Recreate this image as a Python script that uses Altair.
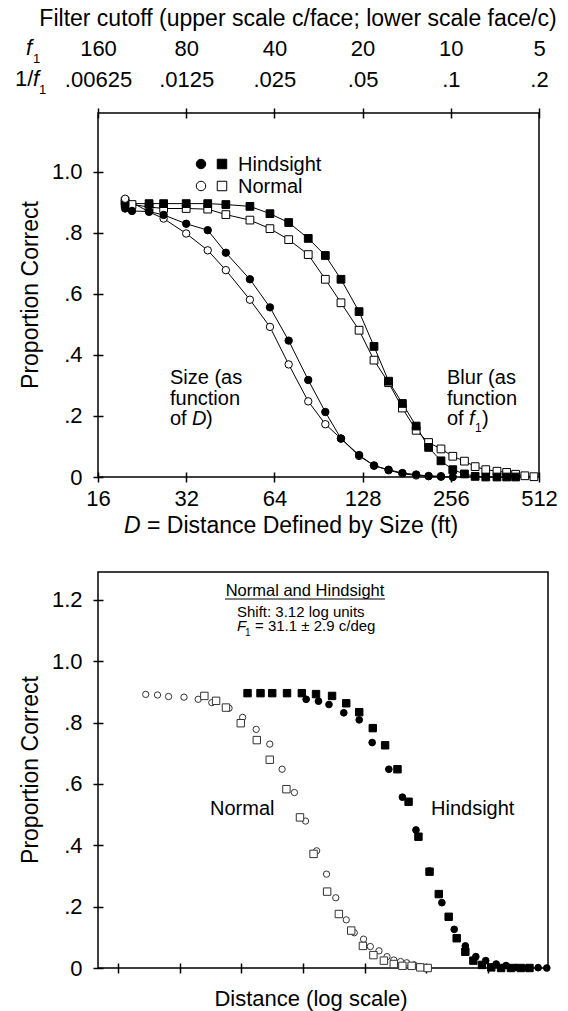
import altair as alt
import pandas as pd

FONT = "Liberation Sans"

# ---------------- Top panel data (D in ft, proportion correct) ----------------
size_norm_D = [19.8, 23.9, 26.8, 32.0, 37.9, 43.7, 52.8, 61.8, 71.6, 83.5, 95.5, 108, 124.5, 140, 157, 175, 195, 215, 237]
size_norm_p = [0.912, 0.869, 0.847, 0.798, 0.743, 0.678, 0.581, 0.492, 0.369, 0.248, 0.173, 0.126, 0.069, 0.038, 0.022, 0.011, 0.005, 0.003, 0.003]

size_hind_D = [19.8, 20.9, 23.9, 26.8, 32.0, 37.9, 43.7, 52.8, 61.8, 71.6, 83.5, 95.5, 108, 124.5, 140, 157, 175, 195, 215, 237, 260]
size_hind_p = [0.880, 0.872, 0.870, 0.859, 0.830, 0.809, 0.735, 0.648, 0.556, 0.447, 0.318, 0.213, 0.126, 0.072, 0.037, 0.024, 0.013, 0.008, 0.003, 0.001, 0.0]

blur_norm_D = [19.8, 20.9, 23.9, 26.8, 32.0, 37.9, 43.7, 52.8, 61.8, 71.6, 83.5, 95.5, 108, 124.5, 140, 157, 175, 195, 215, 237, 260, 285, 310, 337, 368, 397, 426, 458, 492]
blur_norm_p = [0.904, 0.893, 0.885, 0.880, 0.880, 0.878, 0.860, 0.842, 0.814, 0.778, 0.729, 0.648, 0.571, 0.481, 0.383, 0.309, 0.226, 0.153, 0.113, 0.092, 0.068, 0.052, 0.034, 0.024, 0.019, 0.015, 0.009, 0.004, 0.001]

blur_hind_D = [19.8, 23.9, 26.8, 32.0, 37.9, 43.7, 52.8, 61.8, 71.6, 83.5, 95.5, 108, 124.5, 140, 157, 175, 195, 215, 237, 260, 285, 310, 337, 368, 397, 426]
blur_hind_p = [0.896, 0.896, 0.896, 0.896, 0.896, 0.893, 0.887, 0.863, 0.834, 0.782, 0.726, 0.648, 0.542, 0.428, 0.314, 0.241, 0.167, 0.097, 0.053, 0.024, 0.010, 0.002, 0.0, 0.0, 0.0, 0.0]

# Scale tick labels
d_ticks = [16, 32, 64, 128, 256, 512]
f1_labels = ["160", "80", "40", "20", "10", "5"]
inv_f1_labels = [".00625", ".0125", ".025", ".05", ".1", ".2"]

# ---------------- Bottom panel data (distance in log units, proportion correct) ----------------
n_circ_u = [0.45, 0.64, 0.82, 1.07, 1.30, 1.52, 1.80, 2.02, 2.24, 2.46, 2.66, 2.86, 3.04, 3.22, 3.38, 3.53, 3.70, 3.83, 3.98, 4.09, 4.23, 4.36, 4.47, 4.58, 4.68, 4.80, 4.90, 5.03]
n_circ_p = [0.892, 0.890, 0.885, 0.883, 0.876, 0.865, 0.847, 0.817, 0.778, 0.730, 0.648, 0.572, 0.479, 0.382, 0.306, 0.229, 0.157, 0.115, 0.094, 0.070, 0.056, 0.037, 0.026, 0.021, 0.017, 0.010, 0.004, 0.001]

n_sq_u = [1.40, 1.59, 1.75, 1.99, 2.25, 2.46, 2.73, 2.95, 3.17, 3.39, 3.58, 3.78, 3.97, 4.14, 4.31, 4.47, 4.61, 4.76, 4.90, 5.02]
n_sq_p = [0.887, 0.871, 0.849, 0.798, 0.743, 0.679, 0.583, 0.491, 0.372, 0.249, 0.176, 0.122, 0.072, 0.042, 0.024, 0.013, 0.007, 0.007, 0.002, 0.0]

h_sq_u = [2.10, 2.31, 2.50, 2.74, 2.98, 3.21, 3.47, 3.70, 3.91, 4.13, 4.33, 4.53, 4.71, 4.87, 5.05, 5.20, 5.36, 5.49, 5.63, 5.76, 5.90, 6.05, 6.21, 6.37, 6.53, 6.67]
h_sq_p = [0.896, 0.896, 0.896, 0.896, 0.896, 0.893, 0.887, 0.863, 0.834, 0.782, 0.726, 0.648, 0.542, 0.428, 0.314, 0.241, 0.167, 0.097, 0.053, 0.024, 0.010, 0.002, 0.0, 0.0, 0.0, 0.0]

h_circ_u = [3.05, 3.25, 3.42, 3.66, 3.91, 4.12, 4.39, 4.61, 4.83, 5.05, 5.25, 5.45, 5.63, 5.80, 5.96, 6.13, 6.29, 6.45, 6.64, 6.81, 6.95]
h_circ_p = [0.876, 0.870, 0.859, 0.832, 0.809, 0.735, 0.648, 0.557, 0.450, 0.316, 0.213, 0.126, 0.072, 0.037, 0.024, 0.013, 0.008, 0.002, 0.0, 0.001, 0.0]

bottom_ticks = [0, 1, 2, 3, 4, 5, 6]

# ---------------- Build tables ----------------
def series(xs, ps, name, xname):
    return pd.DataFrame({xname: xs, "p": ps, "series": name})

top_df = pd.concat([
    series(size_norm_D, size_norm_p, "size_norm", "D"),
    series(size_hind_D, size_hind_p, "size_hind", "D"),
    series(blur_norm_D, blur_norm_p, "blur_norm", "D"),
    series(blur_hind_D, blur_hind_p, "blur_hind", "D"),
], ignore_index=True)

bot_df = pd.concat([
    series(n_circ_u, n_circ_p, "n_circ", "u"),
    series(n_sq_u, n_sq_p, "n_sq", "u"),
    series(h_sq_u, h_sq_p, "h_sq", "u"),
    series(h_circ_u, h_circ_p, "h_circ", "u"),
], ignore_index=True)

TW, TH = 441, 364
BW, BH = 450, 396

xs_top = alt.Scale(type="log", base=2, domain=[16, 512], nice=False)
ys_top = alt.Scale(domain=[0, 1.193], nice=False, zero=False)
xs_bot = alt.Scale(domain=[-0.324, 6.97], nice=False, zero=False)
ys_bot = alt.Scale(domain=[0, 1.291], nice=False, zero=False)

ylab = "datum.value == 0 ? '0' : (datum.value >= 1 ? format(datum.value, '.1f') : replace(format(datum.value, '.1f'), '0.', '.'))"

def y_axis(values):
    return alt.Axis(orient="left", values=values, labelExpr=ylab, domain=False, grid=False, offset=-5,
                    tickSize=10, tickWidth=1.5, tickColor="black", labelFontSize=22,
                    labelPadding=11, labelColor="black", title=None)

# top axis label expression built from the label arrays
parts = []
for d, a, b in zip(d_ticks, f1_labels, inv_f1_labels):
    parts.append(f"datum.value == {d} ? ['{a}', '{b}'] : ")
top_label_expr = "".join(parts) + "''"

x_bottom_axis = alt.Axis(orient="bottom", values=d_ticks, format="d", domain=False, grid=False,
                         offset=-5, tickSize=10, tickWidth=1.5, tickColor="black",
                         labelFontSize=22, labelPadding=6, labelFlush=False, labelColor="black",
                         title=None)
x_top_axis = alt.Axis(orient="top", values=d_ticks, labelExpr=top_label_expr, domain=False,
                      grid=False, offset=-5, tickSize=10, tickWidth=1.5, tickColor="black",
                      labelFontSize=22, labelPadding=48, labelLineHeight=31, labelFlush=False,
                      labelColor="black", labelBaseline="bottom", title=None)

base_top = alt.Chart(top_df)

top_lines = base_top.mark_line(color="black", strokeWidth=1).encode(
    x=alt.X("D:Q", scale=xs_top, axis=x_bottom_axis),
    y=alt.Y("p:Q", scale=ys_top, axis=y_axis([0, 0.2, 0.4, 0.6, 0.8, 1.0])),
    detail="series:N",
)

def pts(chart, field, xscale, yscale, sname, shape, fill, size, stroke="black"):
    return chart.transform_filter(alt.datum.series == sname).mark_point(
        shape=shape, filled=True, fill=fill, stroke=stroke, strokeWidth=1, size=size, opacity=1
    ).encode(
        x=alt.X(f"{field}:Q", scale=xscale, axis=None),
        y=alt.Y("p:Q", scale=yscale, axis=None),
    )

top_pts = [
    pts(base_top, "D", xs_top, ys_top, "blur_norm", "square", "white", 60),
    pts(base_top, "D", xs_top, ys_top, "blur_hind", "square", "black", 60),
    pts(base_top, "D", xs_top, ys_top, "size_norm", "circle", "white", 55),
    pts(base_top, "D", xs_top, ys_top, "size_hind", "circle", "black", 55),
]

tick_df = pd.DataFrame({"D": d_ticks})
top_axis_layer = alt.Chart(tick_df).mark_point(opacity=0).encode(
    x=alt.X("D:Q", scale=xs_top, axis=x_top_axis),
    y=alt.value(0),
)

def txt(s, x, y, size=20, style="normal", align="left", baseline="alphabetic", angle=0, opacity=1):
    return alt.Chart(pd.DataFrame({"t": [s]})).mark_text(
        font=FONT, fontSize=size, fontStyle=style, align=align, baseline=baseline,
        color="black", angle=angle, opacity=opacity
    ).encode(text="t:N", x=alt.value(x), y=alt.value(y))

def marker(x, y, shape, fill, size):
    return alt.Chart(pd.DataFrame({"k": [0]})).mark_point(
        shape=shape, filled=True, fill=fill, stroke="black", strokeWidth=1, size=size, opacity=1
    ).encode(x=alt.value(x), y=alt.value(y))

top_text = [
    txt("Filter cutoff (upper scale c/face; lower scale face/c)", 200, -87, 23, align="center"),
    txt("f", -72, -58, 22, "italic"),
    txt("1", -65, -50, 13),
    txt("1/", -83, -27, 22),
    txt("f", -65, -27, 22, "italic"),
    txt("1", -59, -19, 13),
    txt("Proportion Correct", -67, TH / 2, 23, align="center", baseline="middle", angle=270),
    # legend
    marker(103, 51, "circle", "black", 90),
    marker(124, 51, "square", "black", 90),
    txt("Hindsight", 140, 58, 20),
    marker(103, 73, "circle", "white", 90),
    marker(124, 73, "square", "white", 90),
    txt("Normal", 140, 80, 20),
    # annotations
    txt("Size (as", 72, 271, 20),
    txt("function", 72, 292, 20),
    txt("of", 72, 312, 20),
    txt("D", 94, 312, 20, "italic"),
    txt(")", 108, 312, 20),
    txt("Blur (as", 349, 271, 20),
    txt("function", 349, 292, 20),
    txt("of", 349, 312, 20),
    txt("f", 371, 312, 20, "italic"),
    txt("1", 377, 319, 12),
    txt(")", 384, 312, 20),
    # x title
    txt("D", 26, 420, 23, "italic"),
    txt("= Distance Defined by Size (ft)", 49, 420, 23),
]

top = alt.layer(top_lines, *top_pts, top_axis_layer, *top_text).resolve_axis(
    x="independent", y="independent"
).properties(width=TW, height=TH)

# ---------------- Bottom panel ----------------
base_bot = alt.Chart(bot_df)
x_bot_axis = alt.Axis(orient="bottom", values=bottom_ticks, labels=False, domain=False, grid=False,
                      offset=-5, tickSize=10, tickWidth=1.5, tickColor="black", title=None)

bot_axes_layer = base_bot.mark_point(opacity=0).encode(
    x=alt.X("u:Q", scale=xs_bot, axis=x_bot_axis),
    y=alt.Y("p:Q", scale=ys_bot, axis=y_axis([0, 0.2, 0.4, 0.6, 0.8, 1.0, 1.2])),
)

bot_pts = [
    pts(base_bot, "u", xs_bot, ys_bot, "n_circ", "circle", "white", 40, "#333333"),
    pts(base_bot, "u", xs_bot, ys_bot, "n_sq", "square", "white", 55, "#333333"),
    pts(base_bot, "u", xs_bot, ys_bot, "h_sq", "square", "black", 55),
    pts(base_bot, "u", xs_bot, ys_bot, "h_circ", "circle", "black", 45),
]

underline = alt.Chart(pd.DataFrame({"k": [0]})).mark_rule(color="black", strokeWidth=1).encode(
    x=alt.value(127), x2=alt.value(287), y=alt.value(27)
)

bot_text = [
    txt("Normal and Hindsight", 207, 24, 16.5, align="center"),
    underline,
    txt("Shift: 3.12 log units", 139, 45, 15),
    txt("F", 139, 59, 15, "italic"),
    txt("1", 147, 64, 10),
    txt("= 31.1 ± 2.9 c/deg", 157, 59, 15),
    txt("Normal", 112, 243, 20),
    txt("Hindsight", 333, 243, 20),
    txt("Proportion Correct", -67, BH / 2, 23, align="center", baseline="middle", angle=270),
    txt("Distance (log scale)", 213, 434, 22, align="center"),
    txt("1/", -83, 200, 22, opacity=0),
]

bottom = alt.layer(bot_axes_layer, *bot_pts, *bot_text).resolve_axis(
    x="independent", y="independent"
).properties(width=BW, height=BH)

chart = alt.vconcat(top, bottom, spacing=32).properties(
    padding={"left": 6, "top": -1, "right": 0, "bottom": 0}
).configure(font=FONT).configure_view(stroke="black", strokeWidth=1.5)

chart.save("out.html", embed_options={"renderer": "svg", "actions": False})
